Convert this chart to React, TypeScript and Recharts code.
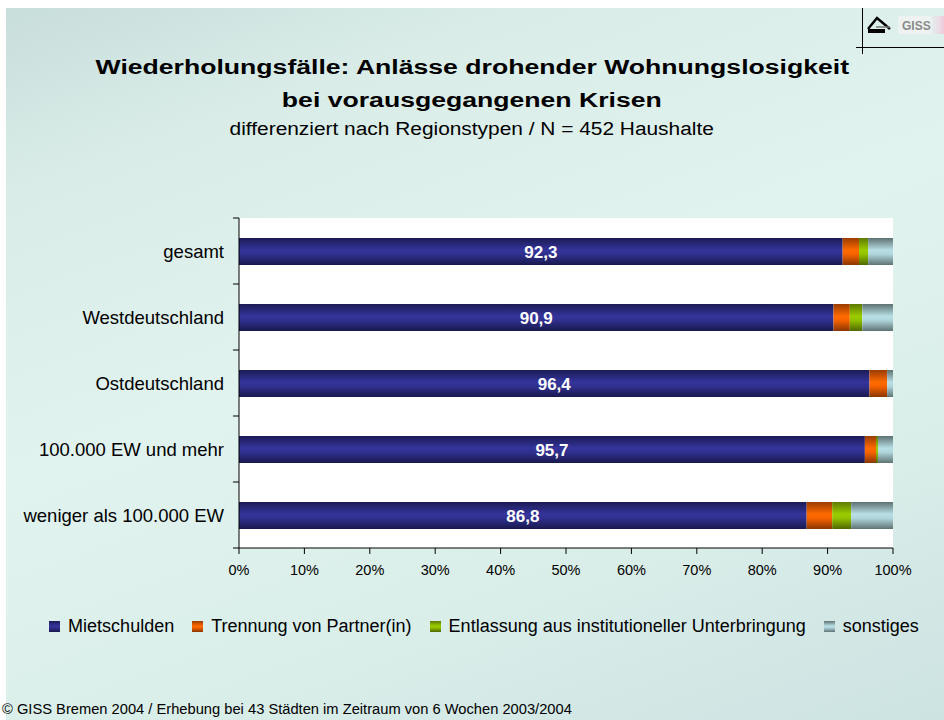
import React from "react";
import { BarChart, Bar, XAxis, YAxis, CartesianGrid, Legend, LabelList } from "recharts";

const categories = [
  "gesamt",
  "Westdeutschland",
  "Ostdeutschland",
  "100.000 EW und mehr",
  "weniger als 100.000 EW",
];
const mietschulden = [92.3, 90.9, 96.4, 95.7, 86.8];
const trennung = [2.5, 2.5, 2.7, 1.7, 3.9];
const entlassung = [1.4, 1.9, 0, 0.3, 2.9];
const sonstiges = [3.8, 4.7, 0.9, 2.3, 6.4];
const xTicks = [0, 10, 20, 30, 40, 50, 60, 70, 80, 90, 100];

const seriesNames = [
  "Mietschulden",
  "Trennung von Partner(in)",
  "Entlassung aus institutioneller Unterbringung",
  "sonstiges",
];
const seriesKeys = ["mietschulden", "trennung", "entlassung", "sonstiges"];
const seriesGrad = ["gNavy", "gOrange", "gGreen", "gGrey"];

const data = categories.map((name, i) => ({
  name,
  mietschulden: mietschulden[i],
  trennung: trennung[i],
  entlassung: entlassung[i],
  sonstiges: sonstiges[i],
}));

const FONT = "'Liberation Sans', Arial, Helvetica, sans-serif";

const YTick = (props: any) => {
  const { x, y, payload, index } = props;
  const off =
    payload && typeof payload.offset === "number" && payload.offset > 0 ? payload.offset : 33;
  const ax = x + 9;
  return (
    <g>
      <line x1={ax} x2={ax + 6} y1={y - off} y2={y - off} stroke="#000" strokeWidth={1} />
      {index === categories.length - 1 && (
        <line x1={ax} x2={ax + 6} y1={y + off} y2={y + off} stroke="#000" strokeWidth={1} />
      )}
      <text x={x} y={y} dy="0.355em" textAnchor="end" fontSize={18.5} fontFamily={FONT} fill="#000">
        {payload.value}
      </text>
    </g>
  );
};

const LegendContent = () => (
  <div
    style={{
      display: "flex",
      justifyContent: "center",
      alignItems: "center",
      fontFamily: FONT,
      fontSize: 18,
      color: "#000",
      whiteSpace: "nowrap",
    }}
  >
    {seriesNames.map((n, i) => (
      <div key={n} style={{ display: "flex", alignItems: "center", marginRight: i < 3 ? 18 : 0 }}>
        <svg width={11} height={11} style={{ marginRight: 8 }}>
          <rect x={0} y={0} width={11} height={11} fill={`url(#${seriesGrad[i]})`} />
        </svg>
        <span>{n}</span>
      </div>
    ))}
  </div>
);

const fmt = (v: any) => Number(v).toFixed(1).replace(".", ",");

export default function App() {
  return (
    <div style={{ position: "absolute", left: 0, top: 0, width: 944, height: 720, background: "#ffffff", overflow: "hidden" }}>
      <svg width={0} height={0} style={{ position: "absolute" }}>
        <defs>
          <linearGradient id="gNavy" x1="0" y1="0" x2="0" y2="1">
            <stop offset="0%" stopColor="#1b1b55" />
            <stop offset="45%" stopColor="#34349c" />
            <stop offset="60%" stopColor="#30308f" />
            <stop offset="100%" stopColor="#19194e" />
          </linearGradient>
          <linearGradient id="gOrange" x1="0" y1="0" x2="0" y2="1">
            <stop offset="0%" stopColor="#9a3c00" />
            <stop offset="45%" stopColor="#ff6a00" />
            <stop offset="60%" stopColor="#f76300" />
            <stop offset="100%" stopColor="#8a3600" />
          </linearGradient>
          <linearGradient id="gGreen" x1="0" y1="0" x2="0" y2="1">
            <stop offset="0%" stopColor="#5e7a00" />
            <stop offset="45%" stopColor="#9acc00" />
            <stop offset="60%" stopColor="#92c200" />
            <stop offset="100%" stopColor="#4f6800" />
          </linearGradient>
          <linearGradient id="gGrey" x1="0" y1="0" x2="0" y2="1">
            <stop offset="0%" stopColor="#5d7172" />
            <stop offset="45%" stopColor="#b8dfe5" />
            <stop offset="60%" stopColor="#b0d6dc" />
            <stop offset="100%" stopColor="#5f7374" />
          </linearGradient>
        </defs>
      </svg>
      <div
        style={{
          position: "absolute",
          left: 6,
          top: 8,
          width: 938,
          height: 712,
          background:
            "linear-gradient(160deg, #c8dedb 0%, #d9ece8 18%, #e1f3ef 45%, #dbefea 70%, #cde3e2 100%)",
        }}
      />
      <svg width={104} height={60} style={{ position: "absolute", left: 840, top: 0 }}>
        <defs>
          <linearGradient id="logoFade" x1="0" y1="0" x2="1" y2="0">
            <stop offset="0%" stopColor="#f4e6ee" stopOpacity={0} />
            <stop offset="100%" stopColor="#f0c8dc" stopOpacity={1} />
          </linearGradient>
        </defs>
        <rect x={58} y={16} width={34} height={18} fill="#eef3f2" />
        <rect x={88} y={16} width={16} height={18} fill="url(#logoFade)" />
        <line x1={22.5} x2={22.5} y1={8} y2={54} stroke="#000" strokeWidth={1} />
        <line x1={16} x2={104} y1={47.5} y2={47.5} stroke="#000" strokeWidth={1} />
        <polyline points="28,29 37,18 50,29" fill="none" stroke="#000" strokeWidth={2.4} />
        <rect x={28} y={29} width={17} height={4} fill="#000" />
        <line x1={36} x2={50} y1={27} y2={27} stroke="#777" strokeWidth={1.5} />
        <text x={62} y={30} fontSize={12} fontWeight="bold" fontFamily={FONT} fill="#8a8a8a">
          GISS
        </text>
      </svg>
      <div style={{ position: "absolute", left: 0, top: 57, width: 944, textAlign: "center", fontFamily: FONT, fontWeight: "bold", fontSize: 20, lineHeight: "20px", color: "#000" }}>
        <span style={{ display: "inline-block", transform: "scaleX(1.33)", whiteSpace: "nowrap" }}>
          Wiederholungsfälle: Anlässe drohender Wohnungslosigkeit
        </span>
      </div>
      <div style={{ position: "absolute", left: 0, top: 90, width: 944, textAlign: "center", fontFamily: FONT, fontWeight: "bold", fontSize: 20, lineHeight: "20px", color: "#000" }}>
        <span style={{ display: "inline-block", transform: "scaleX(1.33)", whiteSpace: "nowrap" }}>
          bei vorausgegangenen Krisen
        </span>
      </div>
      <div style={{ position: "absolute", left: 0, top: 120, width: 944, textAlign: "center", fontFamily: FONT, fontSize: 18, lineHeight: "18px", color: "#000" }}>
        <span style={{ display: "inline-block", transform: "scaleX(1.16)", whiteSpace: "nowrap" }}>
          differenziert nach Regionstypen / N = 452 Haushalte
        </span>
      </div>
      <div style={{ position: "absolute", left: 2, top: 702, fontFamily: FONT, fontSize: 14.7, lineHeight: "15px", color: "#000", whiteSpace: "nowrap" }}>
        © GISS Bremen 2004 / Erhebung bei 43 Städten im Zeitraum von 6 Wochen 2003/2004
      </div>
      <div style={{ position: "absolute", left: 0, top: 0 }}>
        <BarChart
          width={944}
          height={720}
          data={data}
          layout="vertical"
          margin={{ top: 218, right: 51, bottom: 142, left: 8 }}
          barSize={27}
        >
          <CartesianGrid horizontal={false} vertical={false} fill="#ffffff" stroke="none" />
          <XAxis
            type="number"
            domain={[0, 100]}
            ticks={xTicks}
            interval={0}
            tickFormatter={(v: number) => `${v}%`}
            axisLine={{ stroke: "#000" }}
            tickLine={{ stroke: "#000" }}
            tickSize={6}
            tickMargin={11}
            height={30}
            tick={{ fontSize: 14.5, fill: "#000", fontFamily: FONT }}
          />
          <YAxis
            type="category"
            dataKey="name"
            width={231}
            axisLine={{ stroke: "#000" }}
            tickLine={false}
            tickSize={6}
            tickMargin={9}
            interval={0}
            tick={<YTick />}
          />
          {seriesKeys.map((k, i) => (
            <Bar
              key={k}
              dataKey={k}
              name={seriesNames[i]}
              stackId="a"
              fill={`url(#${seriesGrad[i]})`}
              isAnimationActive={false}
            >
              {i === 0 && (
                <LabelList
                  dataKey={k}
                  position="center"
                  formatter={fmt}
                  fill="#ffffff"
                  fontWeight="bold"
                  fontSize={17}
                  fontFamily={FONT}
                />
              )}
            </Bar>
          ))}
          <Legend
            layout="horizontal"
            verticalAlign="middle"
            align="center"
            content={<LegendContent />}
            wrapperStyle={{ position: "absolute", left: 12, top: 616, width: 944, height: 22 }}
          />
        </BarChart>
      </div>
    </div>
  );
}
